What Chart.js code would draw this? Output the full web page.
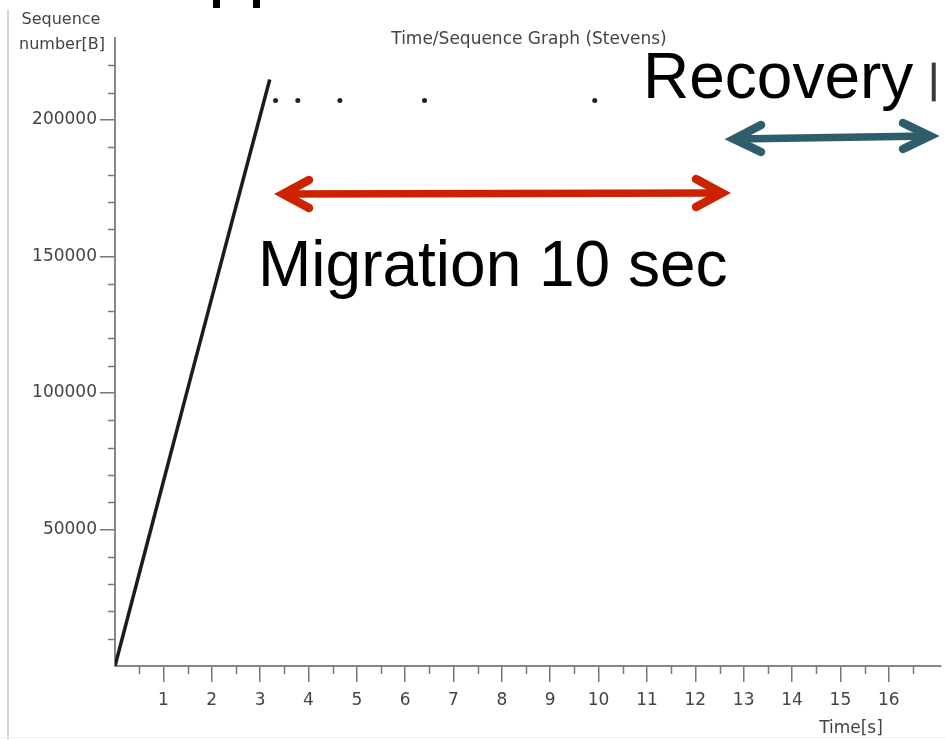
<!DOCTYPE html>
<html>
<head>
<meta charset="utf-8">
<script src="https://cdn.jsdelivr.net/npm/chart.js@4.4.1/dist/chart.umd.min.js"></script>
<style>
  body { margin: 0; background: #fff; }
  #wrap { width: 945px; height: 740px; }
</style>
</head>
<body>
<div id="wrap"><canvas id="tcp-chart" width="945" height="740"></canvas></div>
<script>
// time (s) / sequence number (bytes)
const burstTime = [0, 0.8, 1.6, 2.4, 3.2];
const burstSeq = [0, 54000, 108000, 161500, 214800];
const retransTime = [3.32, 3.78, 4.65, 6.4, 9.92];
const retransSeq = [207100, 207100, 207100, 207100, 207100];
const recoveryTime = [16.93, 16.93];
const recoverySeq = [206800, 221000];
const xTickLabels = [1, 2, 3, 4, 5, 6, 7, 8, 9, 10, 11, 12, 13, 14, 15, 16];
const yTickLabels = [50000, 100000, 150000, 200000];

const toPoints = (xs, ys) => xs.map((x, i) => ({ x: x, y: ys[i] }));

Chart.defaults.font.family = "'DejaVu Sans', sans-serif";
Chart.defaults.color = "#444";

function drawArrow(ctx, tip, armA, armB) {
  ctx.beginPath();
  ctx.moveTo(armA[0], armA[1]);
  ctx.lineTo(tip[0], tip[1]);
  ctx.lineTo(armB[0], armB[1]);
  ctx.stroke();
}

const extras = {
  id: "extras",
  afterDraw(chart) {
    const ctx = chart.ctx;
    const xs = chart.scales.x;
    const ys = chart.scales.y;
    ctx.save();

    // minor ticks
    ctx.strokeStyle = "#777";
    ctx.lineWidth = 1.5;
    ctx.beginPath();
    for (let v = 10000; v < 230000; v += 10000) {
      if (v % 50000 === 0) continue;
      const py = Math.round(ys.getPixelForValue(v)) + 0.5;
      ctx.moveTo(108, py);
      ctx.lineTo(115, py);
    }
    for (let v = 0.5; v < 17; v += 1) {
      const px = Math.round(xs.getPixelForValue(v)) + 0.5;
      ctx.moveTo(px, 666);
      ctx.lineTo(px, 674);
    }
    ctx.stroke();

    // frame remnants of the slide
    ctx.fillStyle = "#d4d4d4";
    ctx.fillRect(7, 10, 2, 730);
    ctx.fillStyle = "#eeeeee";
    ctx.fillRect(0, 737, 945, 1);
    ctx.fillStyle = "#000";
    ctx.fillRect(213, 0, 7, 8);
    ctx.fillRect(253, 0, 7, 8);

    // small graph texts
    ctx.fillStyle = "#444";
    ctx.textAlign = "center";
    ctx.textBaseline = "middle";
    ctx.font = "17px 'DejaVu Sans'";
    ctx.fillText("Time/Sequence Graph (Stevens)", 529, 40);
    ctx.fillText("Time[s]", 851, 729);
    ctx.font = "16px 'DejaVu Sans'";
    ctx.fillText("Sequence", 61, 20);
    ctx.fillText("number[B]", 62, 45);

    // big slide annotations
    ctx.fillStyle = "#000";
    ctx.font = "64px 'Liberation Sans', Arial, sans-serif";
    ctx.textAlign = "left";
    ctx.textBaseline = "alphabetic";
    ctx.fillText("Migration 10 sec", 258, 286);
    ctx.fillText("Recovery", 643, 98);

    ctx.lineCap = "round";
    ctx.lineJoin = "miter";

    // red arrow
    ctx.strokeStyle = "#cc2200";
    ctx.lineWidth = 7.5;
    ctx.beginPath();
    ctx.moveTo(284, 194);
    ctx.lineTo(721, 193);
    ctx.stroke();
    ctx.lineWidth = 8.5;
    drawArrow(ctx, [283, 194], [309, 180], [309, 208]);
    drawArrow(ctx, [722, 193], [696, 179], [696, 207]);

    // teal arrow
    ctx.strokeStyle = "#2e5d6b";
    ctx.lineWidth = 7.5;
    ctx.beginPath();
    ctx.moveTo(735, 139);
    ctx.lineTo(929, 136);
    ctx.stroke();
    ctx.lineWidth = 8.5;
    drawArrow(ctx, [734, 139], [761, 125], [761, 152]);
    drawArrow(ctx, [930, 136], [903, 123], [903, 149]);

    ctx.restore();
  }
};

new Chart("tcp-chart", {
  data: {
    datasets: [
      {
        type: "line",
        data: toPoints(burstTime, burstSeq),
        borderColor: "#1c1c1c",
        borderWidth: 3.5,
        pointRadius: 0,
        tension: 0
      },
      {
        type: "scatter",
        data: toPoints(retransTime, retransSeq),
        backgroundColor: "#222",
        borderWidth: 0,
        pointRadius: 2.5
      },
      {
        type: "line",
        data: toPoints(recoveryTime, recoverySeq),
        borderColor: "#3a3a3a",
        borderWidth: 4,
        pointRadius: 0
      }
    ]
  },
  options: {
    responsive: false,
    animation: false,
    layout: { padding: { top: 38, right: 0, left: 0, bottom: 0 } },
    plugins: { legend: { display: false }, tooltip: { enabled: false } },
    scales: {
      x: {
        type: "linear",
        min: 0,
        max: 17.08,
        afterBuildTicks: s => { s.ticks = xTickLabels.map(v => ({ value: v })); },
        afterFit: s => { s.height = 74; },
        grid: { drawOnChartArea: false, tickLength: 16, color: "#777", lineWidth: 1.5 },
        border: { color: "#888", width: 2 },
        ticks: { autoSkip: false, maxRotation: 0, padding: 8, font: { size: 17 },
                 callback: v => String(v) }
      },
      y: {
        type: "linear",
        min: 0,
        max: 230000,
        afterBuildTicks: s => { s.ticks = yTickLabels.map(v => ({ value: v })); },
        afterFit: s => { s.width = 115; },
        grid: { drawOnChartArea: false, tickLength: 15, color: "#777", lineWidth: 1.5 },
        border: { color: "#888", width: 2 },
        ticks: { autoSkip: false, padding: 3, font: { size: 17 },
                 callback: v => String(v) }
      }
    }
  },
  plugins: [extras]
});
</script>
</body>
</html>
